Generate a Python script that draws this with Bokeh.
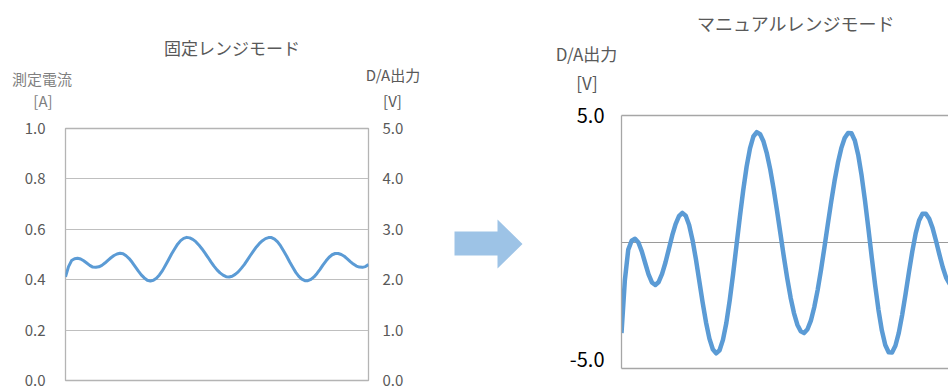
from bokeh.plotting import figure
from bokeh.layouts import row, column
from bokeh.models import Range1d, LinearAxis, FixedTicker, Label, PrintfTickFormatter
from bokeh.embed import file_html
from bokeh.resources import INLINE

# ---------------- data ----------------
# left chart: measured current [A] (fixed range mode), time 0..100
t_fixed = list(range(0, 101))
current_a = [0.411, 0.452, 0.476, 0.483, 0.485, 0.482, 0.475, 0.466, 0.457, 0.450,
             0.449, 0.451, 0.457, 0.466, 0.477, 0.487, 0.496, 0.502, 0.505, 0.503,
             0.495, 0.484, 0.469, 0.452, 0.435, 0.419, 0.407, 0.398, 0.395, 0.398,
             0.406, 0.419, 0.436, 0.457, 0.479, 0.502, 0.522, 0.541, 0.555, 0.564,
             0.568, 0.566, 0.560, 0.551, 0.538, 0.523, 0.506, 0.489, 0.471, 0.454,
             0.439, 0.427, 0.418, 0.412, 0.411, 0.414, 0.421, 0.431, 0.445, 0.460,
             0.478, 0.496, 0.513, 0.530, 0.544, 0.555, 0.563, 0.567, 0.567, 0.561,
             0.550, 0.534, 0.514, 0.493, 0.470, 0.449, 0.429, 0.413, 0.402, 0.396,
             0.396, 0.401, 0.411, 0.425, 0.441, 0.459, 0.475, 0.489, 0.499, 0.504,
             0.504, 0.500, 0.493, 0.483, 0.472, 0.462, 0.454, 0.450, 0.449, 0.452,
             0.460]

# right chart: D/A output [V] (manual range mode), time 0..100
t_manual = list(range(0, 101))
da_out_v = [-3.60, -1.50, -0.30, 0.05, 0.13, -0.02, -0.37, -0.83, -1.28, -1.60,
            -1.70, -1.58, -1.26, -0.81, -0.28, 0.26, 0.71, 1.02, 1.15, 1.04,
            0.67, 0.08, -0.68, -1.54, -2.40, -3.18, -3.82, -4.24, -4.40, -4.28,
            -3.87, -3.20, -2.31, -1.27, -0.14, 0.99, 2.05, 2.98, 3.70, 4.17,
            4.34, 4.26, 3.97, 3.49, 2.86, 2.09, 1.23, 0.33, -0.58, -1.43,
            -2.19, -2.81, -3.27, -3.53, -3.60, -3.45, -3.11, -2.58, -1.90, -1.10,
            -0.22, 0.69, 1.58, 2.41, 3.13, 3.71, 4.11, 4.31, 4.30, 4.01,
            3.44, 2.63, 1.64, 0.54, -0.60, -1.70, -2.69, -3.50, -4.07, -4.36,
            -4.37, -4.10, -3.59, -2.88, -2.06, -1.19, -0.37, 0.34, 0.85, 1.12,
            1.12, 0.92, 0.55, 0.05, -0.49, -1.00, -1.41, -1.65, -1.69, -1.50,
            -1.11]

current_ticks = [0.0, 0.2, 0.4, 0.6, 0.8, 1.0]
fixed_v_ticks = [0.0, 1.0, 2.0, 3.0, 4.0, 5.0]
manual_v_ticks = [-4.66, 5.0]
manual_v_tick_labels = {-4.66: "-5.0", 5.0: "5.0"}

title_fixed = "固定レンジモード"
title_manual = "マニュアルレンジモード"

# decorative arrow outline (page pixel space of the middle panel)
ARROW_X = [454, 497, 497, 522, 497, 497, 454]
ARROW_Y = [231, 231, 219, 243.5, 268, 255, 255]

# ---------------- styles ----------------
FONT = "Noto Sans CJK JP"
LINE_COLOR = "#5b9bd5"
GRID = "#bfbfbf"
TXT = "#595959"
TXT2 = "#7f7f7f"
H = 391


def base_fig(**kw):
    p = figure(output_backend="svg", toolbar_location=None, **kw)
    p.title.visible = False
    p.frame_align = False
    p.background_fill_color = "white"
    p.border_fill_color = "white"
    return p


def header(x0, x1, h):
    p = base_fig(width=x1 - x0, height=h, x_range=Range1d(x0, x1), y_range=Range1d(h, 0),
                 min_border=0, x_axis_location=None, y_axis_location=None)
    p.grid.visible = False
    p.outline_line_color = None
    return p


def add_label(p, x, y, text, size, color):
    p.add_layout(Label(x=x, y=y, text=text, text_font=FONT, text_font_size=f"{size}px",
                       text_color=color, text_align="center", text_baseline="middle"))


# ---------------- left: header + chart ----------------
HL = 110
h1 = header(0, 440, HL)
add_label(h1, 231.5, 47, title_fixed, 17, TXT)
add_label(h1, 41.5, 77.5, "測定電流", 15, TXT2)
add_label(h1, 42.5, 100, "[A]", 15, TXT2)
add_label(h1, 392.5, 74, "D/A出力", 15, TXT)
add_label(h1, 392, 100, "[V]", 15, TXT)

p1 = base_fig(width=440, height=H - HL, x_range=Range1d(0, 100), y_range=Range1d(0, 1),
              x_axis_location=None,
              min_border_left=65, min_border_right=72, min_border_top=18, min_border_bottom=11)
p1.extra_y_ranges = {"v": Range1d(0, 5)}
yl = p1.yaxis[0]
yl.ticker = FixedTicker(ticks=current_ticks)
yl.formatter = PrintfTickFormatter(format="%.1f")
yr = LinearAxis(y_range_name="v", ticker=FixedTicker(ticks=fixed_v_ticks),
                formatter=PrintfTickFormatter(format="%.1f"))
p1.add_layout(yr, "right")
for ax, so in ((yl, 20), (yr, 14)):
    ax.axis_line_color = None
    ax.major_tick_line_color = None
    ax.minor_tick_line_color = None
    ax.major_tick_out = 0
    ax.major_tick_in = 0
    ax.major_label_standoff = so
    ax.major_label_text_font = FONT
    ax.major_label_text_font_size = "15px"
    ax.major_label_text_color = TXT
p1.xgrid.visible = False
p1.ygrid.ticker = FixedTicker(ticks=current_ticks)
p1.ygrid.grid_line_color = GRID
p1.outline_line_color = "#b4b4b4"
p1.outline_line_width = 1.3
p1.line(t_fixed, current_a, line_color=LINE_COLOR, line_width=3, line_join="round")

# ---------------- middle (arrow) ----------------
p2 = header(440, 530, H)
p2.patch(ARROW_X, ARROW_Y, fill_color="#9dc3e6", line_color=None)

# ---------------- right: header + chart ----------------
HR = 95
h3 = header(530, 948, HR)
add_label(h3, 795.5, 22.5, title_manual, 18, TXT)
add_label(h3, 586, 53, "D/A出力", 17, TXT)
add_label(h3, 586.5, 82, "[V]", 17, TXT)

p3 = base_fig(width=418, height=H - HR, x_range=Range1d(0, 96.7), y_range=Range1d(-5, 5),
              x_axis_location=None,
              min_border_left=91, min_border_right=0, min_border_top=20, min_border_bottom=23)
ya = p3.yaxis[0]
ya.ticker = FixedTicker(ticks=manual_v_ticks)
ya.major_label_overrides = manual_v_tick_labels
ya.axis_line_color = "#a6a6a6"
ya.axis_line_width = 1.3
ya.major_tick_line_color = None
ya.minor_tick_line_color = None
ya.major_tick_out = 0
ya.major_tick_in = 0
ya.major_label_standoff = 17
ya.major_label_text_font = FONT
ya.major_label_text_font_size = "20px"
ya.major_label_text_color = "#000000"
for loc in ("above", "below"):
    ax = LinearAxis(ticker=FixedTicker(ticks=[]), axis_line_color="#a6a6a6", axis_line_width=1.3,
                    major_tick_line_color=None, minor_tick_line_color=None,
                    major_tick_out=0, major_tick_in=0, major_label_standoff=0)
    p3.add_layout(ax, loc)
p3.xgrid.visible = False
p3.ygrid.ticker = FixedTicker(ticks=[0])
p3.ygrid.grid_line_color = "#9a9a9a"
p3.outline_line_color = None
p3.line(t_manual, da_out_v, line_color=LINE_COLOR, line_width=4.5, line_join="round")

layout = row(column(h1, p1), p2, column(h3, p3))
open("out.html", "w").write(file_html(layout, INLINE))
